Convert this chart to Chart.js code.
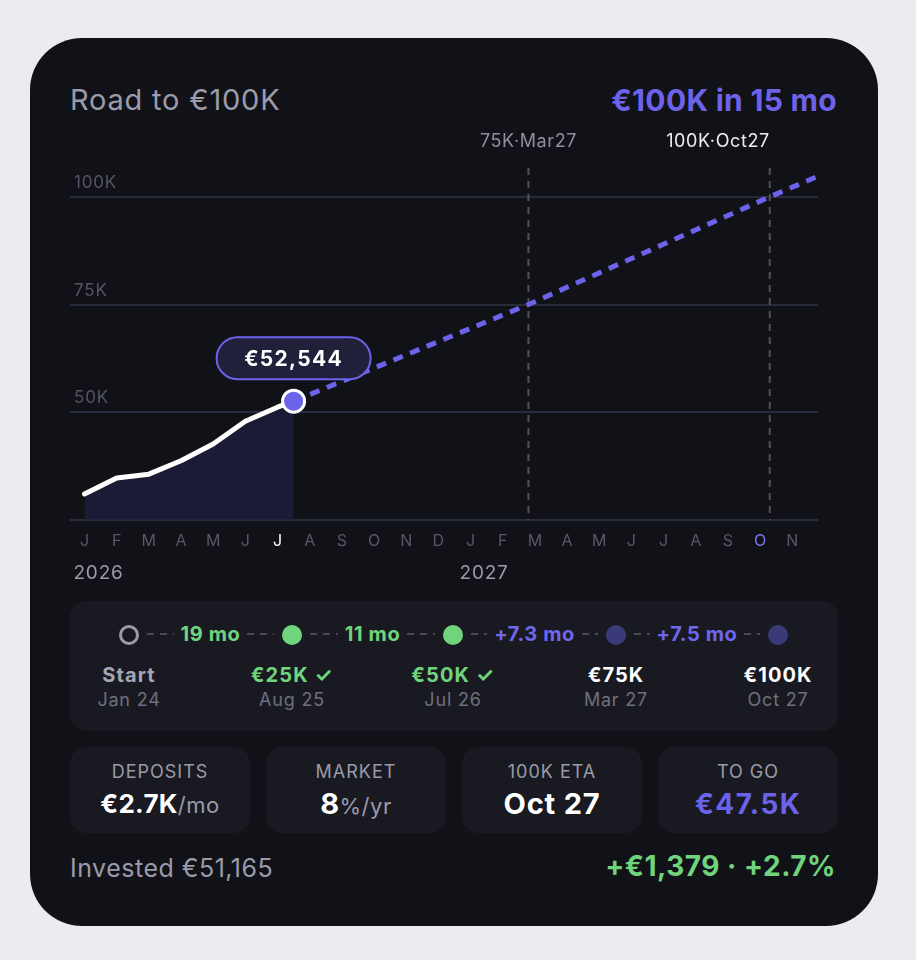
<!DOCTYPE html>
<html>
<head>
<meta charset="utf-8">
<script src="https://cdn.jsdelivr.net/npm/chart.js@4.4.1/dist/chart.umd.min.js"></script>
<style>
  html, body { margin: 0; padding: 0; background: #ebebf0; }
  body { width: 916px; height: 960px; position: relative; overflow: hidden; font-family: Inter, "Noto Sans", sans-serif; }
  .card { position: absolute; left: 30px; top: 38px; width: 848px; height: 888px; border-radius: 52px; background: #111217; }
  #road { position: absolute; left: 0; top: 0; }
  .abs { position: absolute; white-space: nowrap; }
  .title { left: 70px; top: 82px; line-height: 36px; font-size: 29px; color: #9b9bab; font-weight: 400; letter-spacing: 0.8px; }
  .eta { right: 79px; top: 82px; line-height: 36px; font-size: 30px; color: #6c63ea; font-weight: 700; letter-spacing: 0.3px; }
  .strip { left: 70px; top: 601px; width: 768px; height: 130px; border-radius: 16px; background: #191a21; }
  .dot { position: absolute; width: 20px; height: 20px; border-radius: 50%; margin-left: -10px; top: 625px; box-sizing: border-box; }
  .link { position: absolute; top: 621px; height: 26px; line-height: 26px; display: flex; align-items: center; font-size: 20px; font-weight: 700; letter-spacing: 0.6px; }
  .link .dash { flex: 1; height: 2px; background: repeating-linear-gradient(90deg, #4a4a57 0 7px, transparent 7px 13px); }
  .link span { padding: 0 7px; }
  .ms { position: absolute; width: 160px; margin-left: -80px; text-align: center; top: 663px; }
  .ms .name { font-size: 20px; font-weight: 700; line-height: 24px; letter-spacing: 1.1px; }
  .ms .date { font-size: 18px; color: #6f6f7e; line-height: 26px; letter-spacing: 0.8px; }
  .stat { position: absolute; top: 747px; width: 180px; height: 86px; border-radius: 16px; background: #191a21; text-align: center; }
  .stat .lbl { font-size: 18px; color: #9a9aaa; margin-top: 14px; line-height: 22px; letter-spacing: 1px; }
  .stat .val { font-size: 26px; font-weight: 700; color: #fff; margin-top: 5px; line-height: 32px; letter-spacing: 0.3px; }
  .stat .val small { font-size: 22px; font-weight: 400; color: #9a9aaa; letter-spacing: 0.5px; }
  .foot-l { left: 70px; top: 853px; line-height: 30px; font-size: 25px; color: #9a9aaa; letter-spacing: 0.5px; }
  .foot-r { right: 80px; top: 851px; line-height: 30px; font-size: 28px; color: #6fd47c; font-weight: 700; letter-spacing: 0.5px; }
</style>
</head>
<body>
<div class="card"></div>
<div class="abs title">Road to €100K</div>
<div class="abs eta">€100K in 15 mo</div>
<canvas id="road" width="916" height="600"></canvas>
<div class="abs strip"></div>
<div id="milestones"></div>
<div id="stats"></div>
<div class="abs foot-l">Invested €51,165</div>
<div class="abs foot-r">+€1,379 · +2.7%</div>

<script>
/*--------------------DATA--------------------*/
// months counted from Jan 2026 (0)
const monthLetters = ['J', 'F', 'M', 'A', 'M', 'J', 'J', 'A', 'S', 'O', 'N', 'D',
                      'J', 'F', 'M', 'A', 'M', 'J', 'J', 'A', 'S', 'O', 'N'];
const yearMonths = [0, 12];
const yearLabels = ['2026', '2027'];

const historyMonths = [0, 1, 2, 3, 4, 5, 6, 6.5];
const historyValues = [31000, 34700, 35600, 38700, 42600, 47900, 51150, 52544];

const projectionMonths = [6.5, 13.8, 21.3, 22.8];
const projectionValues = [52544, 75000, 100000, 104800];

const currentMonth = 6.5;
const currentValue = 52544;
const currentLabel = '€52,544';

const gridValues = [50000, 75000, 100000];
const gridLabels = ['50K', '75K', '100K'];

const markerMonths = [13.8, 21.3];
const markerLabels = ['75K·Mar27', '100K·Oct27'];

const milestoneNames = ['Start', '€25K ✓', '€50K ✓', '€75K', '€100K'];
const milestoneDates = ['Jan 24', 'Aug 25', 'Jul 26', 'Mar 27', 'Oct 27'];
const milestoneGaps = ['19 mo', '11 mo', '+7.3 mo', '+7.5 mo'];

const statLabels = ['DEPOSITS', 'MARKET', '100K ETA', 'TO GO'];
const statValues = ['€2.7K', '8', 'Oct 27', '€47.5K'];
const statUnits = ['/mo', '%/yr', '', ''];

/*--------------------CHART--------------------*/
const purple = '#6b63ea';
const green = '#6fd47c';
const tickGrey = '#575768';

const roadPlugin = {
    id: 'road',
    beforeDatasetsDraw(chart) {
        const { ctx, chartArea, scales: { x, y } } = chart;
        ctx.save();
        // grid labels above lines
        ctx.font = '17px Inter';
        ctx.letterSpacing = '0.8px';
        ctx.fillStyle = '#545466';
        ctx.textAlign = 'left';
        ctx.textBaseline = 'middle';
        gridValues.forEach((v, i) => ctx.fillText(gridLabels[i], chartArea.left + 4, y.getPixelForValue(v) - 14));

        // milestone markers
        ctx.setLineDash([7, 6]);
        ctx.strokeStyle = '#50505c';
        ctx.lineWidth = 2;
        markerMonths.forEach((m, i) => {
            const px = x.getPixelForValue(m);
            ctx.beginPath();
            ctx.moveTo(px, chartArea.top);
            ctx.lineTo(px, chartArea.bottom);
            ctx.stroke();

            ctx.font = '18px Inter';
            ctx.letterSpacing = '0.6px';
            ctx.fillStyle = i === markerMonths.length - 1 ? '#ececf2' : '#8e8e9d';
            const w = ctx.measureText(markerLabels[i]).width;
            // centre on the line unless it would run past the plot edge
            ctx.textAlign = px + w > chartArea.right ? 'right' : 'center';
            ctx.fillText(markerLabels[i], px, chartArea.top - 26);
        });
        ctx.setLineDash([]);

        // year labels
        ctx.font = '19px Inter';
        ctx.letterSpacing = '0.8px';
        ctx.fillStyle = '#9a9aaa';
        ctx.textAlign = 'left';
        yearMonths.forEach((m, i) => ctx.fillText(yearLabels[i], x.getPixelForValue(m) - 11, chartArea.bottom + 53));
        ctx.restore();
    },
    afterDatasetsDraw(chart) {
        const { ctx, scales: { x, y } } = chart;
        const cx = x.getPixelForValue(currentMonth);
        const cy = y.getPixelForValue(currentValue) - 43;
        const w = 154, h = 42;
        ctx.save();
        ctx.beginPath();
        ctx.roundRect(cx - w / 2, cy - h / 2, w, h, h / 2);
        ctx.fillStyle = '#20203a';
        ctx.fill();
        ctx.lineWidth = 2;
        ctx.strokeStyle = purple;
        ctx.stroke();
        ctx.font = 'bold 21px Inter';
        ctx.letterSpacing = '1.3px';
        ctx.fillStyle = '#ffffff';
        ctx.textAlign = 'center';
        ctx.textBaseline = 'middle';
        ctx.fillText(currentLabel, cx, cy + 1);
        ctx.restore();
    }
};

const toPoints = (xs, ys) => xs.map((m, i) => ({ x: m, y: ys[i] }));

let roadCanvas = document.getElementById('road');
let roadChart = new Chart(roadCanvas, {
    type: 'line',
    data: {
        datasets: [
            {
                data: [{ x: currentMonth, y: currentValue }],
                showLine: false,
                pointRadius: 11,
                pointBackgroundColor: purple,
                pointBorderColor: '#ffffff',
                pointBorderWidth: 3
            },
            {
                data: toPoints(historyMonths, historyValues),
                borderColor: '#ffffff',
                borderWidth: 5,
                borderJoinStyle: 'round',
                borderCapStyle: 'round',
                pointRadius: 0,
                fill: 'start',
                backgroundColor: '#1c1b36'
            },
            {
                data: toPoints(projectionMonths, projectionValues),
                borderColor: purple,
                borderWidth: 5,
                borderDash: [10, 8],
                pointRadius: 0,
                fill: false
            }
        ]
    },
    options: {
        responsive: false,
        animation: false,
        layout: { padding: { left: 70, right: 98, top: 168, bottom: 37 } },
        plugins: { legend: { display: false }, tooltip: { enabled: false } },
        events: [],
        scales: {
            x: {
                type: 'linear',
                min: -0.45,
                max: 22.8,
                afterBuildTicks: (axis) => { axis.ticks = monthLetters.map((_, i) => ({ value: i })); },
                grid: { display: false, drawTicks: false },
                border: { display: false },
                ticks: {
                    autoSkip: false,
                    maxRotation: 0,
                    padding: 12,
                    font: { family: 'Inter', size: 16 },
                    color: (c) => c.index === 6 ? '#ffffff' : (c.index === 21 ? '#7a72f2' : tickGrey),
                    callback: (v) => monthLetters[v]
                }
            },
            y: {
                min: 25000,
                max: 106700,
                afterBuildTicks: (axis) => { axis.ticks = [25000].concat(gridValues).map((v) => ({ value: v })); },
                grid: { color: '#2a2a3d', lineWidth: 2, drawTicks: false },
                border: { display: false },
                ticks: { display: false }
            }
        }
    },
    plugins: [roadPlugin]
});

/*--------------------MILESTONES--------------------*/
const dotX = [129, 292, 453, 616, 778];
const dotStyles = [
    'border: 3px solid #9a9aaa;',
    'background: ' + green + ';',
    'background: ' + green + ';',
    'background: #3b3a78;',
    'background: #3b3a78;'
];
const nameColors = ['#a6a6b4', green, green, '#ffffff', '#ffffff'];
const gapColors = [green, green, '#6f66ee', '#6f66ee'];

let html = '';
dotX.forEach((px, i) => {
    html += `<div class="dot" style="left:${px}px;${dotStyles[i]}"></div>`;
    html += `<div class="ms" style="left:${px}px"><div class="name" style="color:${nameColors[i]}">${milestoneNames[i]}</div><div class="date">${milestoneDates[i]}</div></div>`;
    if (i < milestoneGaps.length) {
        const l = px + 18, r = dotX[i + 1] - 18;
        html += `<div class="link" style="left:${l}px;width:${r - l}px;color:${gapColors[i]}"><div class="dash"></div><span>${milestoneGaps[i]}</span><div class="dash"></div></div>`;
    }
});
document.getElementById('milestones').innerHTML = html;

/*--------------------STATS--------------------*/
const statX = [70, 266, 462, 658];
let statHtml = '';
statX.forEach((px, i) => {
    let valStyle = '';
    if (i === 1) valStyle = 'font-size:29px;';
    if (i === 2) valStyle = 'font-size:29px;letter-spacing:0.8px;';
    if (i === 3) valStyle = 'font-size:28px;letter-spacing:1.4px;color:' + purple + ';';
    const unit = statUnits[i] ? `<small>${statUnits[i]}</small>` : '';
    statHtml += `<div class="stat" style="left:${px}px"><div class="lbl">${statLabels[i]}</div><div class="val" style="${valStyle}">${statValues[i]}${unit}</div></div>`;
});
document.getElementById('stats').innerHTML = statHtml;
</script>
</body>
</html>
